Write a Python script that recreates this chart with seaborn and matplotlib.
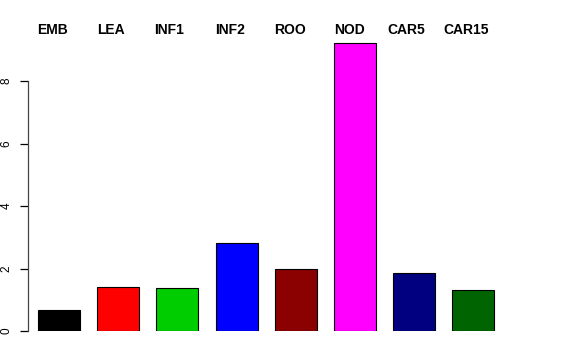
import matplotlib
matplotlib.use("Agg")
import matplotlib.pyplot as plt
import seaborn as sns
import pandas as pd

categories = ["EMB", "LEA", "INF1", "INF2", "ROO", "NOD", "CAR5", "CAR15"]
values = [0.67, 1.41, 1.38, 2.82, 1.98, 9.22, 1.86, 1.31]
colors = ["#000000", "#FF0000", "#00CD00", "#0000FF", "#8B0000", "#FF00FF", "#000080", "#006400"]
label_x = [-0.37, 0.64, 1.60, 2.64, 3.63, 4.64, 5.54, 6.50]
yticks = [0, 2, 4, 6, 8]

sns.set_style("white")
plt.rcParams['font.family'] = ['Liberation Sans', 'DejaVu Sans']
plt.rcParams['text.color'] = 'black'
plt.rcParams['ytick.color'] = 'black'
plt.rcParams['ytick.labelcolor'] = 'black'

fig = plt.figure(figsize=(5.76, 3.6), dpi=100)
ax = fig.add_axes([28/576, 29/360, 476/576, 290.6/360])

df = pd.DataFrame({"cat": categories, "val": values})
sns.barplot(data=df, x="cat", y="val", hue="cat", palette=colors, legend=False,
            dodge=False, width=0.71, edgecolor="black", linewidth=0.8, saturation=1, ax=ax)

ax.set_xlim(-0.524, 7.516)
ax.set_ylim(0, 9.3)
for s in ["top", "right", "bottom"]:
    ax.spines[s].set_visible(False)
ax.spines["left"].set_bounds(0, 8)
ax.spines["left"].set_color("#444444")
ax.spines["left"].set_linewidth(0.9)
ax.set_xticks([])
ax.set_yticks(yticks)
ax.set_yticklabels([str(t) for t in yticks], rotation=90, va="center", fontsize=8.5, color="black")
ax.tick_params(axis="y", length=6, width=0.9, color="black", pad=5, left=True)
ax.set_xlabel("")
ax.set_ylabel("")

tr = matplotlib.transforms.blended_transform_factory(ax.transData, fig.transFigure)
for x, lab in zip(label_x, categories):
    ax.text(x, 1 - 30/360, lab, transform=tr, ha="left", va="center",
            fontsize=10, fontweight="bold", color="black")

fig.savefig("out.png", dpi=100)
